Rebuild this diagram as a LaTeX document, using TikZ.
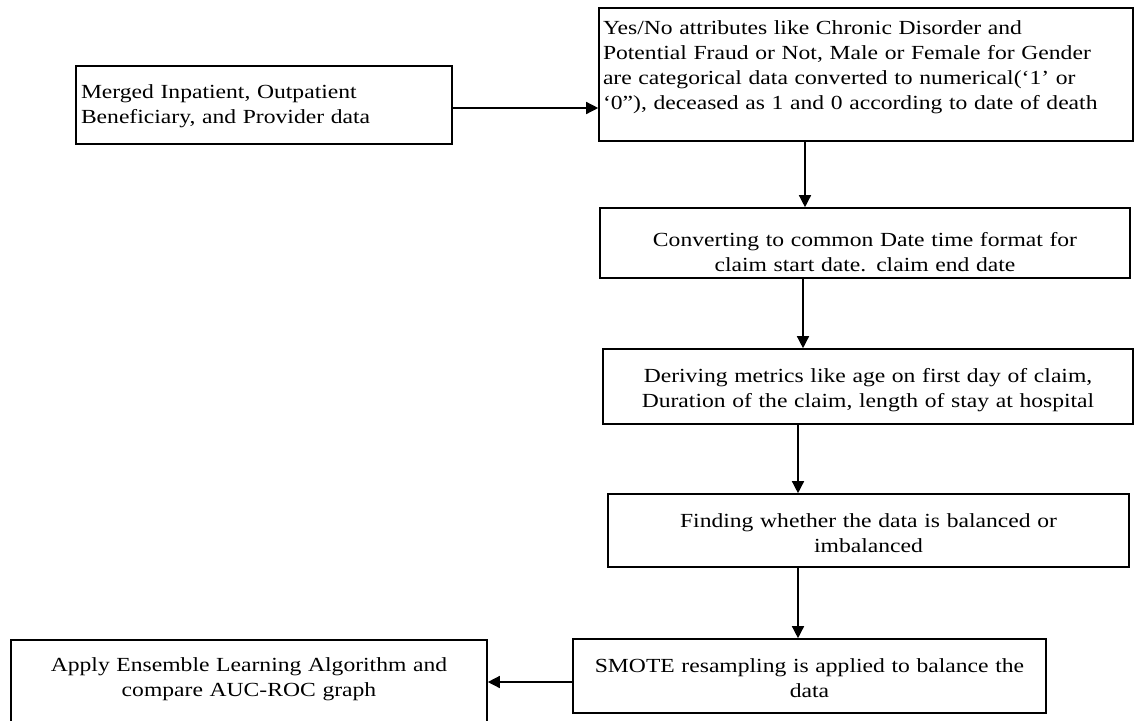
\documentclass[tikz,border=0pt]{standalone}
\usepackage{fontspec}
\setmainfont{Liberation Serif}[FakeStretch=1.18]
\usetikzlibrary{arrows.meta}
\begin{document}
\begin{tikzpicture}[x=1pt,y=-1pt,
  box/.style={draw=black, line width=1.6pt, inner sep=0pt},
  txt/.style={inner sep=0pt, font=\fontsize{20}{25}\selectfont},
  flow/.style={line width=1.4pt, -{Triangle[length=12pt,width=12pt]}}]
\useasboundingbox (0,0) rectangle (1137,720);
\clip (0,0) rectangle (1137,720);
% boxes
\node[box, minimum width=376pt, minimum height=78pt] (A) at (264,105) {};
\node[box, minimum width=534pt, minimum height=133pt] (B) at (866,74.5) {};
\node[box, minimum width=530pt, minimum height=70pt] (C) at (865,243) {};
\node[box, minimum width=530pt, minimum height=75pt] (D) at (868,386.5) {};
\node[box, minimum width=521pt, minimum height=73pt] (E) at (868.5,530.5) {};
\node[box, minimum width=473pt, minimum height=74pt] (F) at (809.5,676) {};
\node[box, minimum width=476pt, minimum height=86pt] (G) at (249,683) {};
% texts (yshift is in page direction: negative = downwards)
\node[txt, text width=366pt, align=left] (At) at ([yshift=-1pt]A.center)
  {Merged Inpatient, Outpatient\\Beneficiary, and Provider data};
\node[txt, text width=526pt, align=left] (Bt) at ([yshift=7pt]B.center)
  {Yes/No attributes like Chronic Disorder and\\Potential Fraud or Not, Male or Female for Gender\\are categorical data converted to numerical(‘1’ or\\‘0”), deceased as 1 and 0 according to date of death};
\node[txt, text width=520pt, align=center] (Ct) at ([yshift=-9pt]C.center)
  {Converting to common Date time format for\\claim start date. claim end date};
\node[txt, text width=520pt, align=center] (Dt) at ([yshift=-4pt]D.center)
  {Deriving metrics like age on first day of claim,\\Duration of the claim, length of stay at hospital};
\node[txt, text width=511pt, align=center] (Et) at ([yshift=-3pt]E.center)
  {Finding whether the data is balanced or\\imbalanced};
\node[txt, text width=463pt, align=center] (Ft) at ([yshift=-2pt]F.center)
  {SMOTE resampling is applied to balance the\\data};
\node[txt, text width=466pt, align=center] (Gt) at (249,679)
  {Apply Ensemble Learning Algorithm and\\compare AUC-ROC graph};
% connectors
\coordinate (yab) at (0,108);
\coordinate (x1) at (805,0);
\coordinate (x2) at (803,0);
\coordinate (x3) at (798,0);
\coordinate (yfg) at (0,682);
\draw[flow] (A.east |- yab) -- (B.west |- yab);
\draw[flow] (B.south -| x1) -- (C.north -| x1);
\draw[flow] (C.south -| x2) -- (D.north -| x2);
\draw[flow] (D.south -| x3) -- (E.north -| x3);
\draw[flow] (E.south -| x3) -- (F.north -| x3);
\draw[flow] (F.west |- yfg) -- (G.east |- yfg);
\end{tikzpicture}
\end{document}
